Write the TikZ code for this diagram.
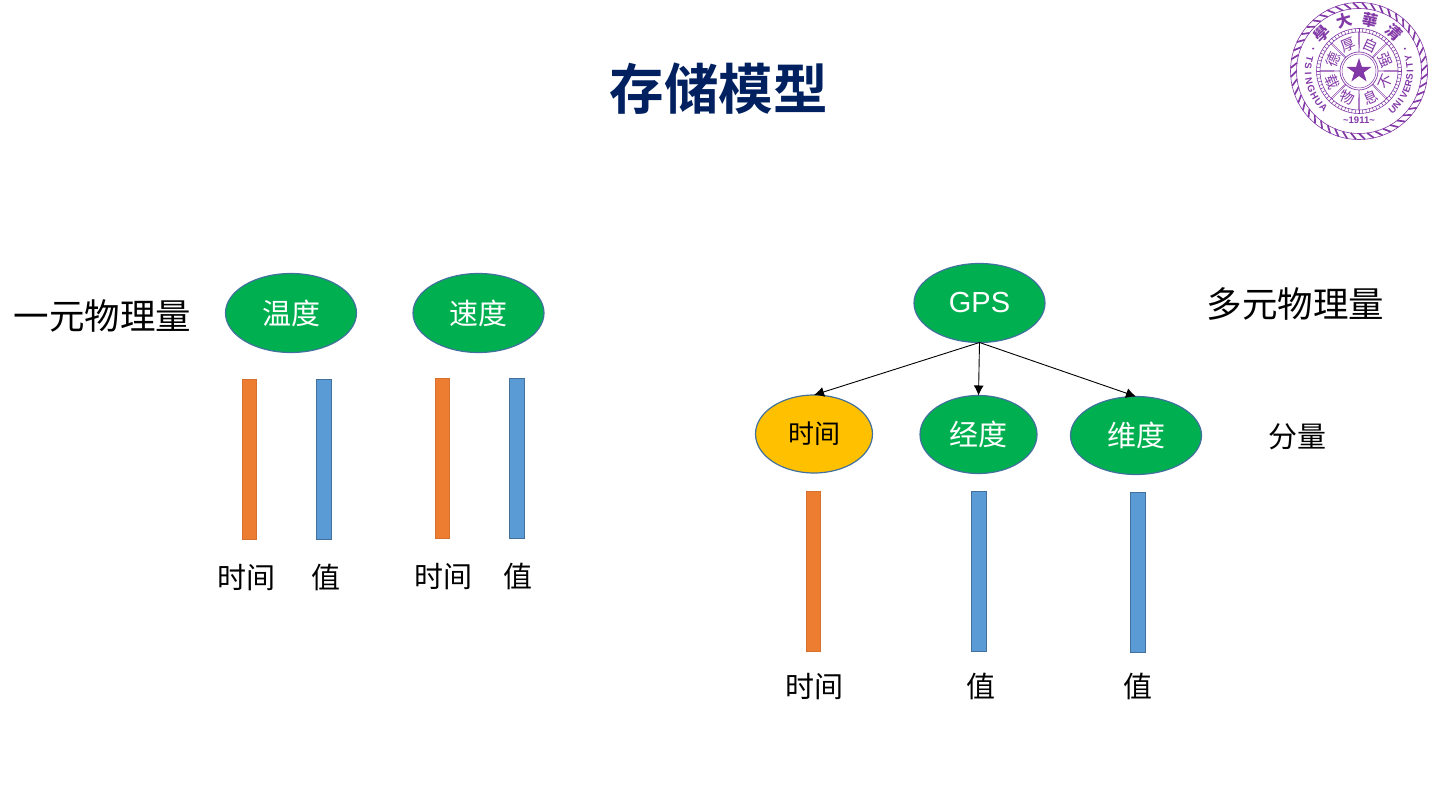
\documentclass[tikz,border=0pt]{standalone}
\usepackage{fontspec}
\setmainfont{Liberation Sans}
\newfontfamily\cjk{Noto Sans CJK SC}
\newfontfamily\cjkb{Noto Sans CJK SC Bold}
\newfontfamily\cjkt{Noto Sans CJK TC}
\usetikzlibrary{shapes.geometric,arrows.meta}
\definecolor{gcol}{HTML}{00B050}
\definecolor{ycol}{HTML}{FFC000}
\definecolor{edgeb}{HTML}{41719C}
\definecolor{barb}{HTML}{5B9BD5}
\definecolor{baro}{HTML}{ED7D31}
\definecolor{titlec}{HTML}{002060}
\definecolor{sealc}{HTML}{8238A6}
\newcommand{\fs}[1]{\fontsize{#1}{#1}\selectfont}
\tikzset{
  x=1pt,y=-1pt,
  oval/.style={ellipse,draw=edgeb,line width=1.2pt,inner sep=0pt,outer sep=0pt,text=white,font=\cjk\fs{29}},
  greenoval/.style={oval,fill=gcol,minimum width=131pt,minimum height=79pt},
  smalloval/.style={oval,fill=gcol,minimum width=117pt,minimum height=78pt},
  baritem/.style={rectangle,inner sep=0pt,outer sep=0pt,minimum width=14.5pt,minimum height=160pt},
  orangebar/.style={baritem,fill=baro,draw=baro!90!black,line width=.6pt},
  bluebar/.style={baritem,fill=barb,draw=edgeb,line width=1.4pt},
  lab/.style={inner sep=0pt,font=\cjk\fs{29},text=black},
  biglab/.style={inner sep=0pt,font=\cjk\fs{35.5},text=black},
  conn/.style={-{Latex[length=10pt,width=10pt]},line width=.9pt,black},
  sealch/.style={inner sep=0pt,text=sealc,font=\cjkt\fs{14.5}},
  sealla/.style={inner sep=0pt,text=sealc,font=\bfseries\fs{9.5}},
}
\begin{document}
\begin{tikzpicture}
\useasboundingbox (0,0) rectangle (1440,810);
\node[inner sep=0pt,font=\cjkb\fs{54.5},text=titlec] (title) at (718.5,89) {存储模型};
\node[biglab] (l1) at (102.5,316) {一元物理量};
\node[biglab] (l2) at (1295.5,304) {多元物理量};
\node[lab] (l3) at (1297,437) {分量};
\node[greenoval] (wd) at (291,313) {温度};
\node[greenoval] (sd) at (478.5,313) {速度};
\node[greenoval,font=\fs{29}] (gps) at (979.5,303) {GPS};
\node[smalloval,fill=ycol,text=black,font=\cjk\fs{26}] (sj) at (814,434) {时间};
\node[smalloval] (jd) at (978.5,434.5) {经度};
\node[greenoval,minimum height=78pt] (ws) at (1136,435.5) {维度};
\draw[conn] (gps.south) -- (sj.north);
\draw[conn] (gps.south) -- (jd.north);
\draw[conn] (gps.south) -- (ws.north);
\node[orangebar] (b1) at (249.5,459.5) {};
\node[bluebar] (b2) at (324,459.5) {};
\node[orangebar] (b3) at (442.5,458) {};
\node[bluebar] (b4) at (517,458.5) {};
\node[orangebar] (b5) at (813.5,571.5) {};
\node[bluebar] (b6) at (979,571.5) {};
\node[bluebar] (b7) at (1138,572.5) {};
\node[lab] (t1) at (246.5,578) {时间};
\node[lab] (t2) at (325.5,577) {值};
\node[lab] (t3) at (443,577) {时间};
\node[lab] (t4) at (518,576) {值};
\node[lab] (t5) at (814,687) {时间};
\node[lab] (t6) at (981,686) {值};
\node[lab] (t7) at (1138,686) {值};
\begin{scope}[shift={(1359,71)},x=1pt,y=1pt,sealc]
  \draw[line width=.6pt] (0,0) circle (68.5);
  \draw[line width=.6pt] (0,0) circle (62.5);
  \foreach \a in {0,7.5,...,352.5}
    \draw[line width=1.7pt] (\a:62.5) -- (\a+5:68.5);
  \draw[line width=.6pt] (0,0) circle (42.5);
  \draw[line width=.6pt] (0,0) circle (39);
  \foreach \a in {0,5,...,355}
    \draw[line width=.5pt] (\a:39) -- (\a:42.5);
  \draw[line width=.7pt] (0,0) circle (19);
  \draw[line width=.5pt] (0,0) circle (17);
  \foreach \a in {0,45,...,315} {
    \draw[line width=.4pt] (\a-1.5:19) -- (\a-1:39);
    \draw[line width=.4pt] (\a+1.5:19) -- (\a+1:39);
  }
  \node[star,star points=5,star point ratio=2.618,fill=sealc,inner sep=0pt,minimum size=26pt] (st) at (0,0) {};
  \node[sealch,font=\cjkt\bfseries\fs{15.5},rotate=45] (s1) at (135:52) {學};
  \node[sealch,font=\cjkt\bfseries\fs{15.5},rotate=16] (s2) at (106:52) {大};
  \node[sealch,font=\cjkt\bfseries\fs{15.5},rotate=-12] (s3) at (78:52) {華};
  \node[sealch,font=\cjkt\bfseries\fs{15.5},rotate=-42] (s4) at (48:52) {清};
  \foreach \c/\a in {自/66,强/23,厚/112,德/157}
    \node[sealch,rotate=\a-90] at (\a:28.5) {\c};
  \foreach \c/\a in {不/-23,息/-66,载/203,物/246}
    \node[sealch,rotate=\a+90] at (\a:28.5) {\c};
  \foreach \c [count=\i from 0] in {T,S,I,N,G,H,U,A} {
    \pgfmathsetmacro\ang{166+8.6*\i}
    \node[sealla,rotate=\ang+90] at (\ang:51) {\c};
  }
  \foreach \c [count=\i from 0] in {U,N,I,V,E,R,S,I,T,Y} {
    \pgfmathsetmacro\ang{311+7*\i}
    \node[sealla,rotate=\ang+90] at (\ang:51) {\c};
  }
  \node[sealla] (yr) at (0,-49) {\textasciitilde 1911\textasciitilde};
  \fill (154:51) circle (1.1);
  \fill (26:51) circle (1.1);
\end{scope}
\end{tikzpicture}
\end{document}
